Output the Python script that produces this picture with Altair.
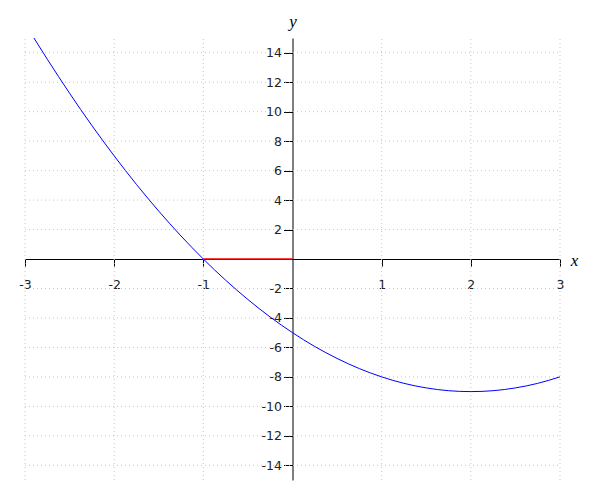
import altair as alt
import pandas as pd

# Curve values
curve_x = [-2.9, -2.75, -2.5, -2.25, -2.0, -1.75, -1.5, -1.25, -1.0, -0.75, -0.5, -0.25,
           0.0, 0.25, 0.5, 0.75, 1.0, 1.25, 1.5, 1.75, 2.0, 2.25, 2.5, 2.75, 3.0]
curve_y = [15.0, 13.56, 11.25, 9.06, 7.0, 5.06, 3.25, 1.56, 0.0, -1.44, -2.75, -3.94,
           -5.0, -5.94, -6.75, -7.44, -8.0, -8.44, -8.75, -8.94, -9.0, -8.94, -8.75, -8.44, -8.0]

# Red segment on the x-axis
seg_x = [-1.0]
seg_x2 = [0.0]
seg_y = [0.0]

# Tick / grid values
x_ticks = [-3, -2, -1, 1, 2, 3]
y_ticks = [-14, -12, -10, -8, -6, -4, -2, 2, 4, 6, 8, 10, 12, 14]
x_range = [-3, 3]
y_range = [-15, 15]

W, H = 535, 442

xs = alt.Scale(domain=x_range, nice=False, zero=False)
ys = alt.Scale(domain=y_range, nice=False, zero=False)

label_font = "DejaVu Sans"

x_axis = alt.Axis(
    values=x_ticks, offset=-H / 2, grid=False, tickSize=7, tickColor="black",
    domainColor="black", labelExpr="datum.value + ''", labelFont=label_font,
    labelFontSize=12.5, labelColor="#222", labelPadding=12, labelBaseline="top",
    labelFlush=False, labelOverlap=False,
    title="x", titleFont="Liberation Serif", titleFontStyle="italic",
    titleFontWeight="normal", titleFontSize=17, titleColor="black",
    titleX=W + 14, titleY=1, titleAlign="center", titleBaseline="middle", titleAngle=0,
)
y_axis = alt.Axis(
    values=y_ticks, offset=-W / 2, grid=False, tickSize=9, tickColor="black",
    domainColor="black", labelExpr="datum.value + ''", labelFont=label_font,
    labelFontSize=12.5, labelColor="#222", labelPadding=2, labelBaseline="middle",
    labelFlush=False, labelOverlap=False,
    title="y", titleFont="Liberation Serif", titleFontStyle="italic",
    titleFontWeight="normal", titleFontSize=17, titleColor="black",
    titleX=0, titleY=-17, titleAlign="center", titleBaseline="middle", titleAngle=0,
)

curve_df = pd.DataFrame({"x": curve_x, "y": curve_y})
seg_df = pd.DataFrame({"x": seg_x, "x2": seg_x2, "y": seg_y})
vgrid_df = pd.DataFrame({"x": x_ticks, "y": [y_range[0]] * len(x_ticks),
                         "y2": [y_range[1]] * len(x_ticks)})
hgrid_df = pd.DataFrame({"y": y_ticks, "x": [x_range[0]] * len(y_ticks),
                         "x2": [x_range[1]] * len(y_ticks)})

grid_style = dict(color="#c8c8c8", strokeWidth=1, strokeDash=[1, 3])

X = alt.X("x:Q", scale=xs, axis=x_axis)
Y = alt.Y("y:Q", scale=ys, axis=y_axis)

vgrid = alt.Chart(vgrid_df).mark_rule(**grid_style).encode(x=X, y=Y, y2="y2:Q")
hgrid = alt.Chart(hgrid_df).mark_rule(**grid_style).encode(x=X, x2="x2:Q", y=Y)
curve = alt.Chart(curve_df).mark_line(
    color="#0000ff", strokeWidth=1, interpolate="monotone"
).encode(x=X, y=Y)
seg = alt.Chart(seg_df).mark_rule(color="#ff0000", strokeWidth=1.3).encode(
    x=X, x2="x2:Q", y=Y
)

chart = alt.layer(vgrid, hgrid, curve, seg).properties(
    width=W, height=H,
    background="white",
    autosize=alt.AutoSizeParams(type="none"),
    padding={"left": 17, "top": 30, "right": 20, "bottom": 10},
).configure_view(stroke=None)

chart.save("out.html", embed_options={"renderer": "svg", "actions": False})
